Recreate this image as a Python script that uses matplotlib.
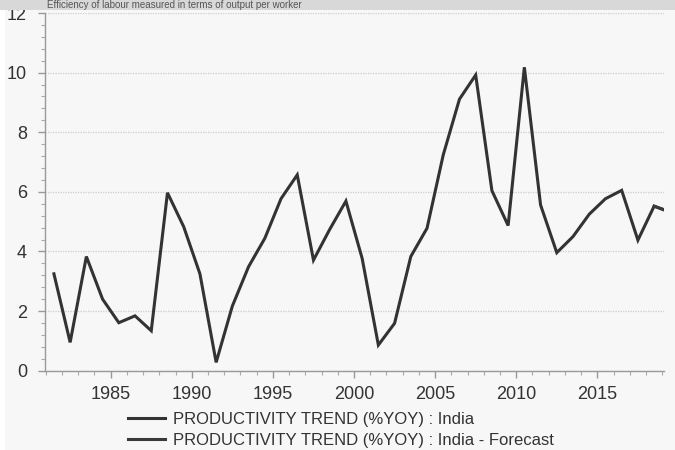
import matplotlib
matplotlib.use("Agg")
import matplotlib.pyplot as plt
from matplotlib.ticker import MultipleLocator, FixedLocator
from matplotlib.patches import Rectangle

plt.rcParams['font.family'] = ['Liberation Sans', 'DejaVu Sans']

years = list(range(1981, 2020))
india = [3.25, 0.95, 3.83, 2.40, 1.61, 1.84, 1.34, 5.97, 4.83, 3.25,
         0.28, 2.17, 3.49, 4.44, 5.77, 6.57, 3.71, 4.74, 5.69, 3.77,
         0.86, 1.59, 3.83, 4.78, 7.24, 9.11, 9.92, 6.04, 4.87, 10.18,
         5.56, 3.96, 4.50, 5.25, 5.77, 6.05, 4.38, 5.52, 5.32]
forecast_years = [2018, 2019]
forecast = [5.52, 5.32]
xticks = [1985, 1990, 1995, 2000, 2005, 2010, 2015]
yticks = [0, 2, 4, 6, 8, 10, 12]
title = "Efficiency of labour measured in terms of output per worker"
labels = ["PRODUCTIVITY TREND (%YOY) : India",
          "PRODUCTIVITY TREND (%YOY) : India - Forecast"]

bg = "#f7f7f7"
txt = "#333333"
line_c = "#333333"

fig = plt.figure(figsize=(6.75, 4.5), dpi=100, facecolor=bg)
W, H = 675, 450

# header strip with title
fig.patches.append(Rectangle((0, 1 - 10 / H), 1, 10 / H, transform=fig.transFigure,
                             facecolor="#d8d8d8", edgecolor="none", zorder=0))
fig.patches.append(Rectangle((0, 0), 5 / W, 1 - 10 / H, transform=fig.transFigure,
                             facecolor="white", edgecolor="none", zorder=0))
fig.text(47 / W, 1 - 8 / H, title, fontsize=7, color="#555555",
         va="baseline", ha="left")

ax = fig.add_axes([45 / W, 1 - 370.7 / H, (663.7 - 45) / W, (370.7 - 13) / H])
ax.set_facecolor(bg)

xpos = [y + 0.5 for y in years]
fxpos = [y + 0.5 for y in forecast_years]
l1, = ax.plot(xpos, india, color=line_c, lw=2.2, solid_joinstyle="miter")
l2, = ax.plot(fxpos, forecast, color="#3a3a3a", lw=2.2)

ax.set_xlim(1980.95, 2019.09)
ax.set_ylim(0, 12)

ax.xaxis.set_major_locator(FixedLocator(xticks))
ax.xaxis.set_minor_locator(MultipleLocator(1))
ax.yaxis.set_major_locator(FixedLocator(yticks))
ax.yaxis.set_minor_locator(MultipleLocator(0.4))

for s in ["top", "right"]:
    ax.spines[s].set_visible(False)
for s in ["left", "bottom"]:
    ax.spines[s].set_color("#999999")
    ax.spines[s].set_linewidth(1.0)

ax.tick_params(axis="both", which="major", length=5, width=1, color="#999999",
               labelsize=13, labelcolor=txt, direction="out")
ax.tick_params(axis="both", which="minor", length=3, width=0.8, color="#aaaaaa",
               direction="out")
ax.tick_params(axis="x", which="major", pad=6)
ax.tick_params(axis="y", which="major", pad=8)

ax.grid(axis="y", which="major", color="#cccccc", linestyle=(0, (1, 1)), lw=0.9)
ax.set_axisbelow(True)

leg = fig.legend([l1, l2], labels, loc="upper left",
                 bbox_to_anchor=(128 / W, 1 - 412 / H), frameon=False,
                 fontsize=12, labelcolor=txt, handlelength=2.2,
                 handletextpad=0.48, labelspacing=0.33, borderpad=0,
                 borderaxespad=0)

fig.savefig("out.png", dpi=100, facecolor=bg)
